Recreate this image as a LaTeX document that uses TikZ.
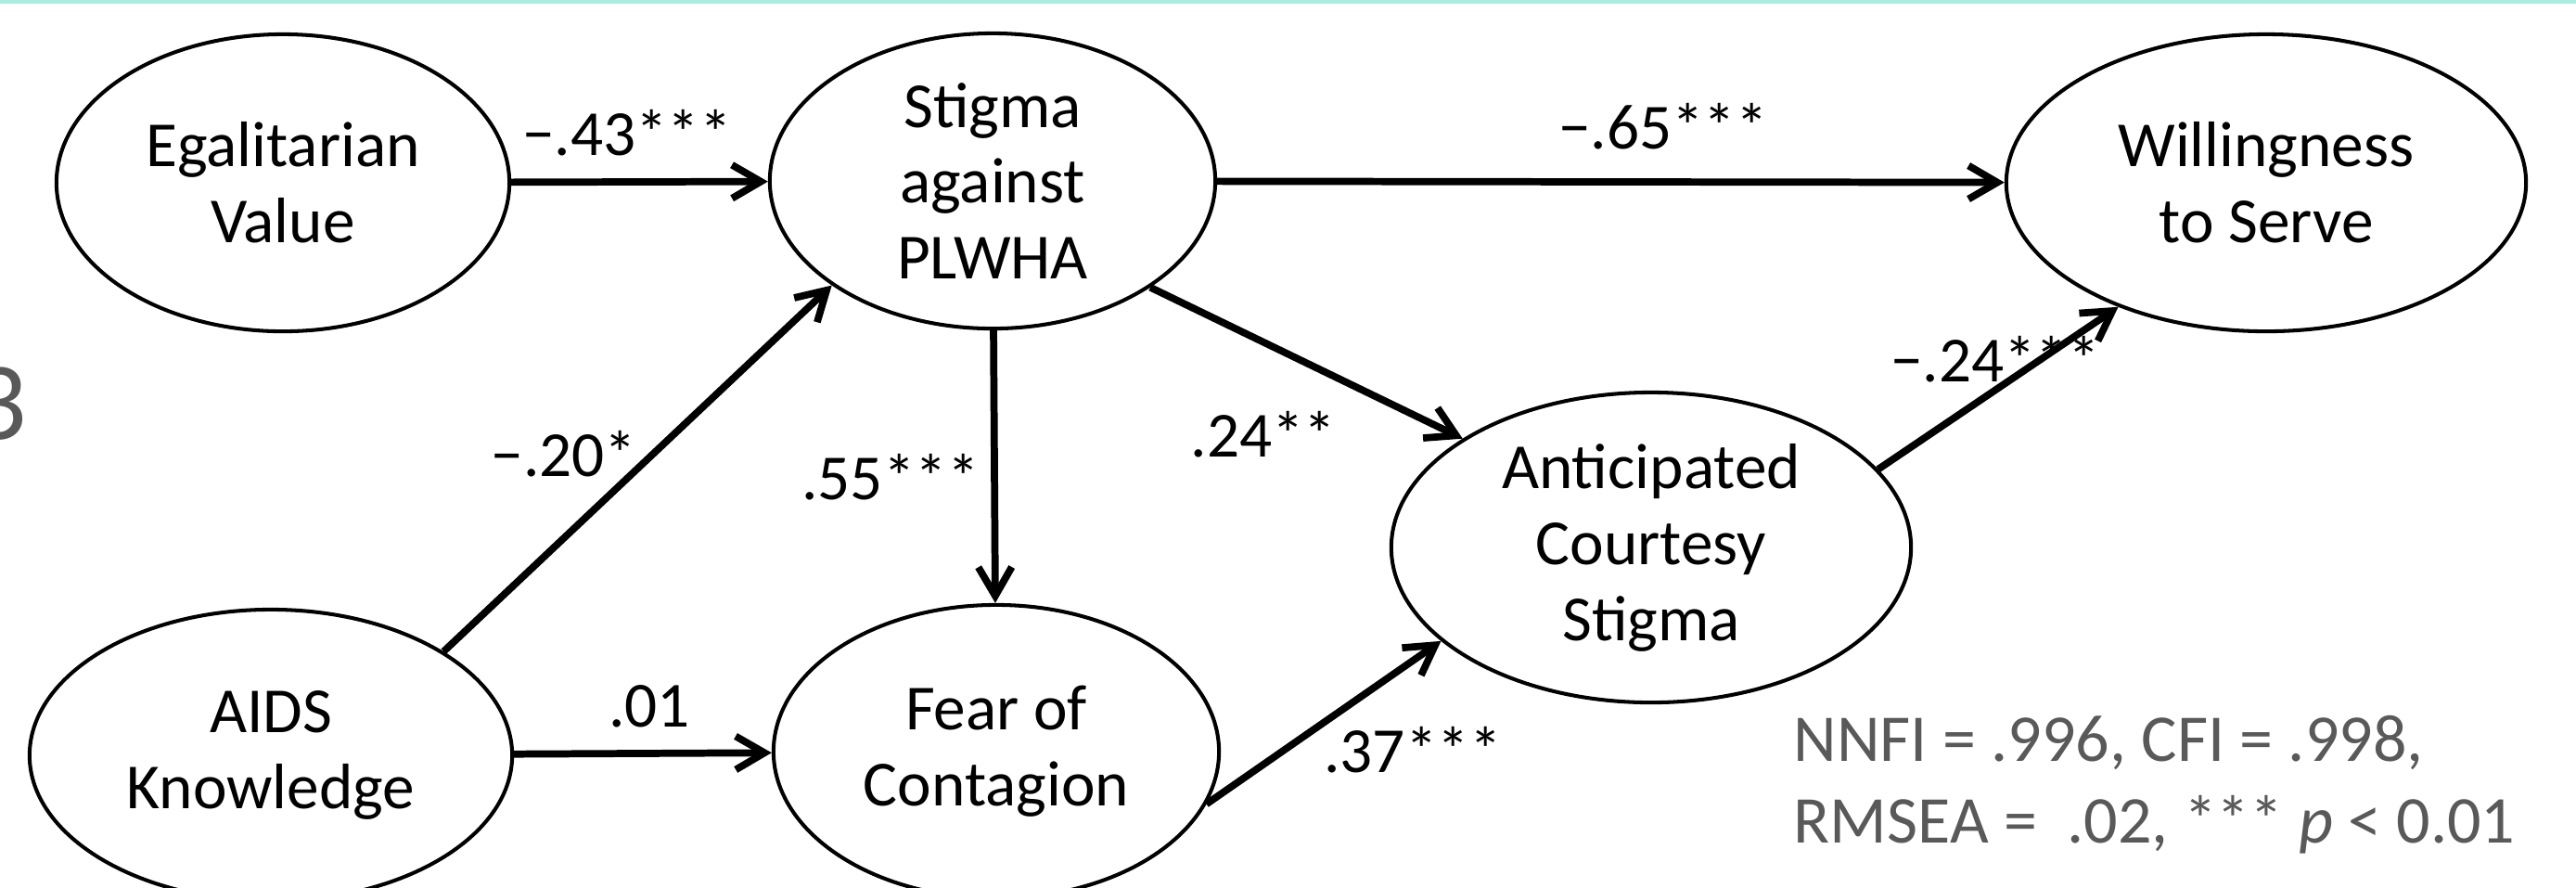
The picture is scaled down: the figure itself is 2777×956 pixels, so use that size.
\documentclass[tikz,border=0pt]{standalone}
\usepackage{fontspec}
\setmainfont{Carlito}
\usetikzlibrary{arrows.meta,shapes.geometric}

\definecolor{statgray}{RGB}{89,89,89}
\definecolor{bandteal}{RGB}{172,236,224}

\tikzset{
  construct/.style={ellipse, draw, line width=1.15pt, inner sep=0pt, align=center,
    font=\fontsize{19.7}{23.3}\selectfont},
  effect/.style={line width=2.2pt, -{Straight Barb[length=0.31cm,width=0.36cm]}},
  coef/.style={inner sep=0pt, font=\fontsize{19.7}{23.3}\selectfont}
}

\begin{document}
\begin{tikzpicture}[x=0.01cm, y=-0.01cm]
\useasboundingbox (0,0) rectangle (2777,956);
\fill[bandteal] (0,0) rectangle (2777,4);

% cut-off slide number at the left edge
\node[inner sep=0pt, anchor=base east, text=statgray,
  font=\fontsize{34}{40}\selectfont] (side3) at (30,473) {3};

% constructs
\node[construct, minimum width=4.88cm, minimum height=3.2cm] (egal) at (305,197) {Egalitarian\\Value};
\node[construct, minimum width=4.8cm, minimum height=3.18cm] (stigma) at (1070,195) {Stigma\\against\\PLWHA};
\node[construct, minimum width=5.6cm, minimum height=3.2cm] (will) at (2443,197) {Willingness\\to Serve};
\node[construct, minimum width=5.6cm, minimum height=3.34cm] (courtesy) at (1780,590) {Anticipated\\Courtesy\\Stigma};
\node[construct, minimum width=5.2cm, minimum height=3.14cm] (aids) at (292,814) {AIDS\\Knowledge};
\node[construct, minimum width=4.8cm, minimum height=3.16cm] (fear) at (1074,810) {Fear of\\Contagion};

% paths
\draw[effect] (egal) -- (stigma);
\draw[effect] (stigma) -- (will);
\draw[effect] (aids) -- (fear);
\draw[effect] (stigma) -- (fear);
\draw[effect] (aids.31) -- (stigma.213);
\draw[effect] (stigma.326) -- (courtesy.150);
\draw[effect] (fear.346) -- (courtesy.204);
\draw[effect] (courtesy.19) -- (will.220);

% coefficients
\node[coef] (c43) at (676,143) {−.43***};
\node[coef] (c65) at (1793,136) {−.65***};
\node[coef] (c20) at (608,489) {−.20*};
\node[coef] (c01) at (700,761) {.01};
\node[coef] (c55) at (960,514) {.55***};
\node[coef] (c24a) at (1362,468) {.24**};
\node[coef] (c37) at (1523,808) {.37***};
\node[coef] (c24b) at (2151,387) {−.24***};

% fit indices
\node[inner sep=0pt, anchor=base west, text=statgray,
  font=\fontsize{20.5}{24}\selectfont] (fit1) at (1933,820) {NNFI = .996, CFI = .998,};
\node[inner sep=0pt, anchor=base west, text=statgray,
  font=\fontsize{20.5}{24}\selectfont] (fit2) at (1933,908) {RMSEA = \ .02, *** \textit{p} < 0.01};
\end{tikzpicture}
\end{document}
